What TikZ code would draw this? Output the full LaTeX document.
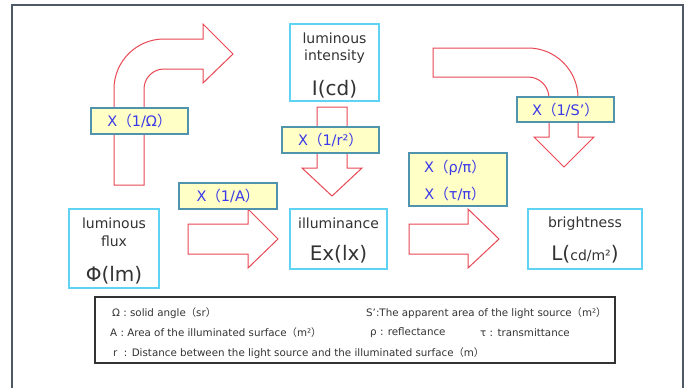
\documentclass[tikz,border=0pt]{standalone}
\usepackage{fontspec}
\setmainfont{DejaVu Sans}
\newfontfamily\cjkfont{Noto Sans CJK JP}
\newcommand\fwl{{\cjkfont （}}
\newcommand\fwr{{\cjkfont ）}}
\definecolor{framec}{HTML}{4D5964}
\definecolor{arrred}{RGB}{232,72,84}
\definecolor{boxcyan}{HTML}{5FD3F3}
\definecolor{lblborder}{HTML}{4F93AD}
\definecolor{lblfill}{HTML}{FFFFC6}
\definecolor{lbltext}{HTML}{3A3AE8}
\definecolor{darktext}{HTML}{333333}
\begin{document}
\begin{tikzpicture}[x=1pt,y=-1pt,
  blockarrow/.style={draw=arrred,line width=1pt,fill=white,line join=miter},
  mainbox/.style={draw=boxcyan,line width=1.5pt,fill=white,inner sep=0pt},
  lblbox/.style={draw=lblborder,line width=1.5pt,fill=lblfill,inner sep=0pt,text=lbltext,font=\fontsize{14.5}{16}\selectfont},
  lbltxt/.style={text=lbltext,font=\fontsize{14.5}{16}\selectfont,inner sep=0pt},
  smalltxt/.style={text=darktext,font=\fontsize{14}{16}\selectfont,inner sep=0pt},
  bigtxt/.style={text=darktext,font=\fontsize{20}{22}\selectfont,inner sep=0pt},
  legtxt/.style={text=darktext,font=\fontsize{10.3}{12}\selectfont,inner sep=0pt,anchor=west}]
\useasboundingbox (0,0) rectangle (688,388);
\fill[white] (0,0) rectangle (688,388);
% frame
\draw[framec,line width=1.2pt] (12,390) -- (12,5) -- (683,5) -- (683,390);

% curved arrow up-right
\draw[blockarrow] (114,185) -- (114,89) arc[start angle=180,end angle=270,radius=50]
  -- (203,39) -- (203,24) -- (233,54) -- (203,83) -- (203,69) -- (164,69)
  arc[start angle=270,end angle=180,radius=20] -- (144,185) -- cycle;
% curved arrow right-down
\draw[blockarrow] (433,48) -- (528,48) arc[start angle=270,end angle=360,radius=50]
  -- (578,137) -- (594,137) -- (564,167) -- (534,137) -- (549,137) -- (549,98)
  arc[start angle=0,end angle=-90,radius=21] -- (433,77) -- cycle;
% down arrow
\draw[blockarrow] (317,107) -- (347,107) -- (347,168) -- (362,168) -- (332,196)
  -- (302,168) -- (317,168) -- cycle;
% right arrows
\draw[blockarrow] (188,224) -- (248,224) -- (248,209) -- (278,239) -- (248,268)
  -- (248,254) -- (188,254) -- cycle;
\draw[blockarrow] (409,224) -- (468,224) -- (468,209) -- (499,239) -- (468,268)
  -- (468,254) -- (409,254) -- cycle;

% main boxes
\node[mainbox,minimum width=89pt,minimum height=77pt] (inten) at (334.5,62.5) {};
\node[smalltxt] at (334.5,38.5) {luminous};
\node[smalltxt] at (334.5,57) {intensity};
\node[bigtxt] at (334.5,89) {I(cd)};

\node[mainbox,minimum width=90pt,minimum height=79pt] (flux) at (114,248.5) {};
\node[smalltxt] at (114,223) {luminous};
\node[smalltxt] at (114,241) {flux};
\node[bigtxt] at (114,275) {Φ(lm)};

\node[mainbox,minimum width=97pt,minimum height=60pt] (illum) at (338.5,239) {};
\node[smalltxt] at (338.5,223) {illuminance};
\node[bigtxt] at (338.5,254) {Ex(lx)};

\node[mainbox,minimum width=114pt,minimum height=60pt] (bright) at (585,239) {};
\node[smalltxt] at (585,224) {brightness};
\node[bigtxt] at (585,254) {L({\fontsize{14}{16}\selectfont cd/m²})};

% label boxes
\node[lblbox,minimum width=97pt,minimum height=26pt] (om) at (139.5,121) {X\fwl 1/Ω\fwr};
\node[lblbox,minimum width=97pt,minimum height=26pt] (rr) at (330.5,140) {X\fwl 1/r²\fwr};
\node[lblbox,minimum width=97pt,minimum height=25pt] (ss) at (565.5,109.5) {X\fwl 1/S’\fwr};
\node[lblbox,minimum width=98pt,minimum height=26pt] (aa) at (228,196) {X\fwl 1/A\fwr};
\node[lblbox,minimum width=98pt,minimum height=53pt] (rt) at (458,179.5) {};
\node[lbltxt] at (455,168) {X\fwl ρ/π\fwr};
\node[lbltxt] at (455,193.5) {X\fwl τ/π\fwr};

% legend
\node[draw=darktext,line width=1.3pt,fill=white,minimum width=520pt,minimum height=66pt,inner sep=0pt] (leg) at (355,330) {};
\node[legtxt] at (112,313) {Ω : solid angle\fwl sr\fwr};
\node[legtxt] at (366,313) {S’:The apparent area of the light source\fwl m²\fwr};
\node[legtxt] at (110,333) {A : Area of the illuminated surface\fwl m²\fwr};
\node[legtxt] at (370,333) {ρ : reflectance};
\node[legtxt] at (480,333) {τ : transmittance};
\node[legtxt] at (113,353) {r\ \ : Distance between the light source and the illuminated surface\fwl m\fwr};
\end{tikzpicture}
\end{document}
